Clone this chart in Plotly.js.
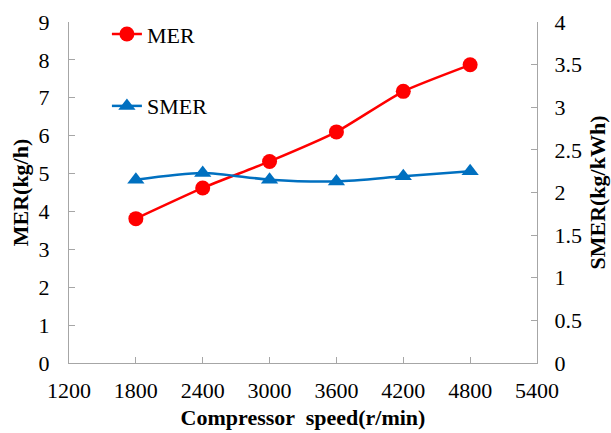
<!DOCTYPE html>
<html>
<head>
<meta charset="utf-8">
<script src="https://cdn.plot.ly/plotly-3.0.1.min.js"></script>
<style>html,body{margin:0;padding:0;background:#fff}#chart{width:611px;height:433px}</style>
</head>
<body>
<div id="chart"></div>
<script>
var speeds = [1800, 2400, 3000, 3600, 4200, 4800];
var merValues = [3.81, 4.62, 5.32, 6.10, 7.17, 7.87];
var smerValues = [2.15, 2.23, 2.15, 2.13, 2.19, 2.25];
var xTicks = [1200, 1800, 2400, 3000, 3600, 4200, 4800, 5400];
var leftTicks = [0, 1, 2, 3, 4, 5, 6, 7, 8, 9];
var rightTicks = [0, 0.5, 1, 1.5, 2, 2.5, 3, 3.5, 4];

var font = 'Liberation Serif';

var traces = [
  {
    x: speeds, y: merValues, name: 'MER', type: 'scatter', mode: 'lines+markers',
    line: {color: '#ff0000', width: 2.5, shape: 'spline', smoothing: 0.5},
    marker: {color: '#ff0000', size: 15, symbol: 'circle'},
    xaxis: 'x', yaxis: 'y', legend: 'legend'
  },
  {
    x: speeds, y: smerValues, name: 'SMER', type: 'scatter', mode: 'lines+markers',
    line: {color: '#0070c0', width: 2.5, shape: 'spline', smoothing: 0.8},
    marker: {color: '#0070c0', size: 15, symbol: 'triangle-up'},
    xaxis: 'x', yaxis: 'y2', legend: 'legend2'
  }
];

var axisCommon = {
  showgrid: false, zeroline: false, showline: true,
  linecolor: '#a6a6a6', linewidth: 1.2,
  ticks: 'inside', ticklen: 6, tickcolor: '#a6a6a6',
  tickfont: {family: font, size: 22, color: '#000'}
};

var layout = {
  width: 611, height: 433,
  margin: {l: 69, r: 74, t: 22, b: 70},
  paper_bgcolor: '#fff', plot_bgcolor: '#fff',
  showlegend: true,
  font: {family: font, color: '#000'},
  xaxis: Object.assign({}, axisCommon, {
    range: [1200, 5400], tickvals: xTicks, ticktext: xTicks.map(String),
    ticklabelstandoff: 7,
    title: {text: '<b>Compressor  speed(r/min)</b>', font: {family: font, size: 22}, standoff: 8}
  }),
  yaxis: Object.assign({}, axisCommon, {
    range: [0, 9], tickvals: leftTicks, ticktext: leftTicks.map(String),
    ticklabelstandoff: 14,
    title: {text: '<b>MER(kg/h)</b>', font: {family: font, size: 22}, standoff: 3}
  }),
  yaxis2: Object.assign({}, axisCommon, {
    range: [0, 4], tickvals: rightTicks, ticktext: rightTicks.map(String),
    overlaying: 'y', side: 'right', ticklabelstandoff: 12,
    title: {text: '<b>SMER(kg/kWh)</b>', font: {family: font, size: 22}, standoff: 8}
  }),
  legend: {
    x: 0.081, y: 1.026, xanchor: 'left', yanchor: 'top',
    bgcolor: 'rgba(0,0,0,0)', font: {family: font, size: 22, color: '#000'},
    itemwidth: 30
  },
  legend2: {
    x: 0.081, y: 0.815, xanchor: 'left', yanchor: 'top',
    bgcolor: 'rgba(0,0,0,0)', font: {family: font, size: 22, color: '#000'},
    itemwidth: 30
  }
};

Plotly.newPlot('chart', traces, layout, {displayModeBar: false, staticPlot: true});
</script>
</body>
</html>
